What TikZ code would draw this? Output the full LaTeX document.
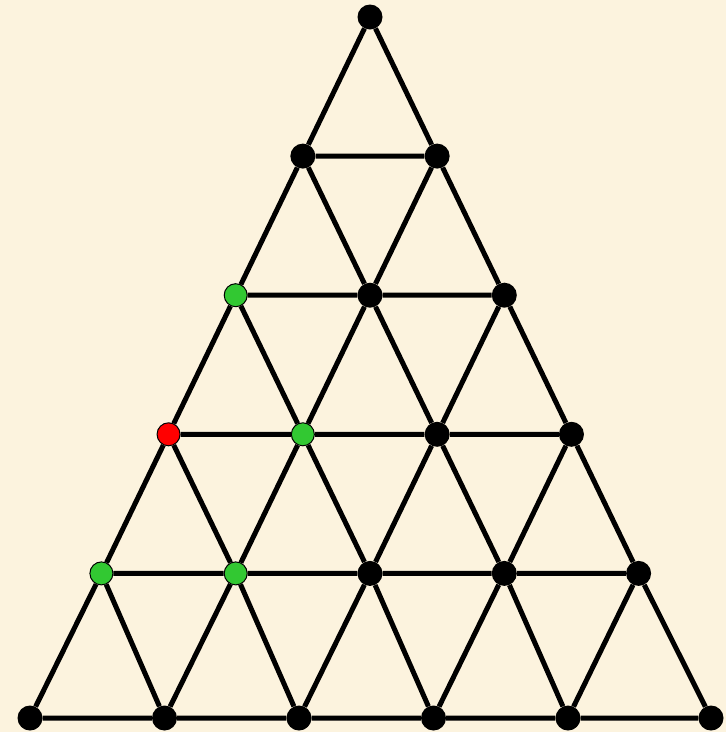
\documentclass[tikz,border=0pt]{standalone}
\usetikzlibrary{backgrounds}
\definecolor{parchment}{RGB}{252,243,222}
\definecolor{ptgreen}{RGB}{50,200,50}

\begin{document}
\begin{tikzpicture}[
x=1pt, y=-1pt,
dot/.style={circle, fill=black, inner sep=0pt, minimum size=25pt},
gdot/.style={draw=black, line width=1pt, fill=ptgreen, minimum size=23pt},
rdot/.style={draw=black, line width=1pt, fill=red, minimum size=23pt},
pt-2-0/.style={gdot},
pt-3-1/.style={gdot},
pt-4-0/.style={gdot},
pt-4-1/.style={gdot},
pt-3-0/.style={rdot},
edge/.style={line width=5pt}
]

% Nodes
\foreach \r in {0,...,5}
  \foreach \i in {0,...,\r} {
    \pgfmathsetmacro\xx{\r==5 ? (\i==5 ? 711 : 30+134.5*\i) : 370+(\i-\r/2)*134.3}
    \pgfmathsetmacro\yy{\r==5 ? 718 : 17+139.1*\r}
    \node[dot, pt-\r-\i/.try] (v-\r-\i) at (\xx, \yy) {};
  }

% Connections
\begin{scope}[on background layer]
\fill[parchment] (0,0) rectangle (726,732);
\foreach \r in {0,...,4}
  \foreach \i in {0,...,\r} {
    \pgfmathtruncatemacro\n{\r+1}
    \pgfmathtruncatemacro\j{\i+1}
    \draw[edge] (v-\r-\i) -- (v-\n-\i) (v-\r-\i) -- (v-\n-\j) (v-\n-\i) -- (v-\n-\j);
  }
\end{scope}

\end{tikzpicture}
\end{document}
